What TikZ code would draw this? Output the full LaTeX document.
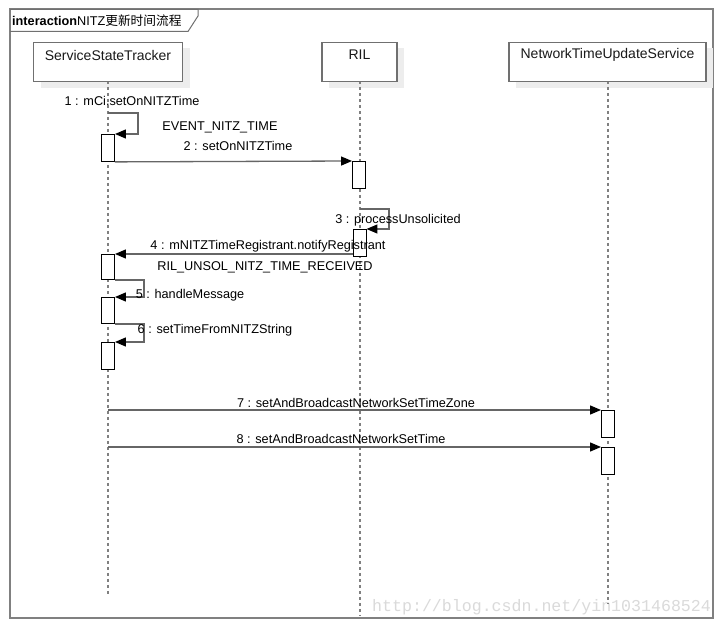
\documentclass[tikz,border=0pt]{standalone}
\usepackage{fontspec}
\setmainfont{Liberation Sans}
\newfontfamily\cjkfont{Noto Sans CJK SC}
\newfontfamily\wmfont{Liberation Mono}
\usetikzlibrary{arrows.meta}
\definecolor{framegray}{HTML}{808080}
\definecolor{headgray}{HTML}{707070}
\definecolor{shadowgray}{HTML}{EDEDED}
\definecolor{linegray}{HTML}{666666}
\definecolor{wmgray}{HTML}{DADADA}
\begin{document}
\begin{tikzpicture}[x=1pt,y=-1pt,
  every node/.style={font=\fontsize{12.7}{14}\selectfont, inner sep=0pt},
  head/.style={draw=headgray, line width=1.3pt, fill=white, minimum width=149pt, minimum height=39pt, anchor=north},
  headname/.style={anchor=center, font=\fontsize{14}{16}\selectfont, text=black!90},
  headshadow/.style={fill=shadowgray, draw=none},
  lifeline/.style={draw=framegray, line width=1.6pt, dash pattern=on 3pt off 3pt},
  act/.style={draw=black, line width=0.9pt, fill=white, minimum width=13pt, anchor=north},
  msg/.style={draw=linegray, line width=1.3pt, -{Triangle[length=11pt,width=9pt,color=black]}},
  lbl/.style={anchor=center}
]
\useasboundingbox (0,0) rectangle (724,628);
\fill[white] (0,0) rectangle (724,628);
% frame
\draw[framegray, line width=2pt] (10,9.5) rectangle (713,618);
\draw[headgray, line width=1pt] (10,9.5) -- (198,9.5) -- (198,16) -- (188,31.5) -- (10,31.5);
\node[anchor=west] (frametitle) at (12,20.5) {\textbf{interaction}NITZ{\cjkfont 更新时间流程}};
% watermark
\node[anchor=west, text=wmgray, font=\wmfont\fontsize{16.6}{18}\selectfont] (wm) at (372,607) {http://blog.csdn.net/yin1031468524};
% head shadows
\fill[headshadow] (41,48) rectangle (190,88);
\fill[headshadow] (329,48) rectangle (404,88);
\fill[headshadow] (516,48) rectangle (713,88);
% lifelines
\coordinate (sstend) at (108,594);
\coordinate (rilend) at (360,616);
\coordinate (ntusend) at (608,604);
\draw[lifeline] (108,81) -- (sstend);
\draw[lifeline] (360,81) -- (rilend);
\draw[lifeline] (608,81) -- (ntusend);
% heads
\node[head] (sst) at (108,42) {};
\node[head, minimum width=75pt] (ril) at (359.5,42) {};
\node[head, minimum width=197pt] (ntus) at (607.5,42) {};
\node[headname] (sstname) at (108,55) {ServiceStateTracker};
\node[headname] (rilname) at (359.5,55) {RIL};
\node[headname] (ntusname) at (607.5,55) {NetworkTimeUpdateService};
% activations
\node[act, minimum height=27pt] (a1) at (108,134) {};
\node[act, minimum height=27pt] (r1) at (359,161) {};
\node[act, minimum height=27pt] (r2) at (359.5,229) {};
\node[act, minimum height=25pt] (a2) at (108,254) {};
\node[act, minimum height=26pt] (a3) at (108,297) {};
\node[act, minimum height=27pt] (a4) at (108,342) {};
\node[act, minimum height=27pt] (n1) at (608,410) {};
\node[act, minimum height=27pt] (n2) at (608,447) {};
% message start points on lifelines
\coordinate (m1s) at (108,113);
\coordinate (m3s) at (360,209);
\coordinate (m7s) at (108,410);
\coordinate (m8s) at (108,447);
% messages
\draw[msg] (m1s) -- ++(30,0) |- (a1.north east);
\draw[msg] (a1.south east) -- (r1.north west);
\draw[msg] (m3s) -- ++(29,0) |- (r2.north east);
\draw[msg] (a2.north east -| r2.west) -- (a2.north east);
\draw[msg] (a2.south east) -- ++(29,0) |- (a3.north east);
\draw[msg] (a3.south east) -- ++(29,0) |- (a4.north east);
\draw[msg] (m7s) -- (n1.north west);
\draw[msg] (m8s) -- (n2.north west);
% labels
\node[lbl] (l1) at (132,101) {1 : mCi.setOnNITZTime};
\node[lbl] (l1b) at (220,127) {EVENT\_NITZ\_TIME};
\node[lbl] (l2) at (238,146) {2 : setOnNITZTime};
\node[lbl] (l3) at (398,220) {3 : processUnsolicited};
\node[lbl] (l4) at (268,246) {4 : mNITZTimeRegistrant.notifyRegistrant};
\node[lbl] (l4b) at (265,267) {RIL\_UNSOL\_NITZ\_TIME\_RECEIVED};
\node[lbl] (l5) at (190,295) {5 : handleMessage};
\node[lbl] (l6) at (215,330) {6 : setTimeFromNITZString};
\node[lbl] (l7) at (356,403) {7 : setAndBroadcastNetworkSetTimeZone};
\node[lbl] (l8) at (341,439) {8 : setAndBroadcastNetworkSetTime};
\end{tikzpicture}
\end{document}
